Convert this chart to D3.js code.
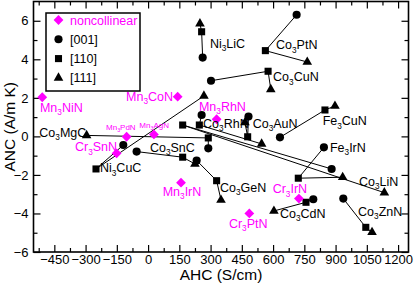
<!DOCTYPE html>
<html>
<head>
<meta charset="utf-8">
<script src="https://cdn.jsdelivr.net/npm/d3@7"></script>
<style>
  body { margin: 0; background: #fff; }
  text { font-family: "Liberation Sans", Arial, Helvetica, sans-serif; }
</style>
</head>
<body>
<div id="chart"></div>
<script>
// collinear compounds, one point per magnetisation direction
var compounds = ["Ni3LiC", "Co3PtN", "Co3CuN", "Fe3CuN", "Co3MgC", "Co3RhN", "Co3AuN",
                 "Co3SnC", "Ni3CuC", "Fe3IrN", "Co3GeN", "Co3LiN", "Co3CdN", "Co3ZnN"];
var ahc001 = [262, 713, 302, 633, 289, 257, 482, -55, -119, 844, 233, 881, 793, 937];
var anc001 = [4.09, 6.31, 2.89, -0.05, -0.62, 1.11, 1.03, -0.79, -0.45, -0.57, -1.25, -1.69, -3.26, -3.23];
var ahc110 = [257, 563, 576, 849, 289, 246, 478, 166, -250, 721, 329, 166, 758, 1045];
var anc110 = [5.43, 4.45, 3.38, 1.37, -0.08, 0.59, -0.02, -1.08, -1.69, -2.17, -2.30, 0.59, -3.42, -4.72];
var ahc111 = [249, 764, 589, 897, -295, 545, 465, 225, 268, 934, 350, 1134, 604, 1075];
var anc111 = [5.85, 3.86, 2.44, 1.58, 0.05, -0.39, 0.72, -1.43, 2.10, -2.12, -3.30, -2.92, -3.87, -4.98];

// noncollinear antiferromagnets
var ncNames = ["Mn3NiN", "Mn3CoN", "Mn3RhN", "Mn3PdN", "Mn3AgN", "Cr3SnN", "Mn3IrN", "Cr3IrN", "Cr3PtN"];
var ncAHC = [-508, 142, 329, -103, 28, -151, 158, 724, 486];
var ncANC = [2.03, 2.06, 0.89, -0.02, 0.10, -0.88, -2.40, -3.23, -4.00];

// axis ticks
var xTicks = [-450, -300, -150, 0, 150, 300, 450, 600, 750, 900, 1050, 1200];
var yTicks = [-6, -4, -2, 0, 2, 4, 6];

// where each label sits (data units)
var colLabelAt = [[297, 4.59], [614, 4.53], [600, 2.87], [838, 0.59], [-522, -0.03], [264, 0.44], [502, 0.46],
                  [9, -0.81], [-231, -1.85], [873, -0.79], [345, -2.87], [1012, -2.57], [633, -4.23], [1008, -4.13]];
var ncLabelAt = [[-519, 1.27], [-106, 1.84], [244, 1.32], [-202, 0.33], [-42, 0.46], [-351, -0.76], [70, -3.07], [598, -2.95], [388, -4.75]];
var ncSmall = ["Mn3PdN", "Mn3AgN"];

var W = 415, H = 285;
var magenta = "#ff00ff";

var svg = d3.select("#chart").append("svg")
    .attr("width", W)
    .attr("height", H);

var x = d3.scaleLinear().domain([-550, 1250]).range([33.5, 408.5]);
var y = d3.scaleLinear().domain([-6, 7]).range([252, 1.5]);

// minor ticks every 75 S/cm and every 1 A/(m K)
var xMinor = d3.range(-525, 1250, 75).filter(function(v){ return xTicks.indexOf(v) < 0; });
var yMinor = d3.range(-5, 7, 1).filter(function(v){ return yTicks.indexOf(v) < 0; });

// ticks point into the plot, so the label padding is counted from the axis line
function tickAxis(axisFn, scale, vals, len, withLabels, pad) {
    return axisFn(scale).tickValues(vals).tickSize(-len).tickPadding(withLabels ? pad : 0)
        .tickFormat(withLabels ? d3.format("d") : "");
}

var gx = svg.append("g").attr("transform", "translate(0," + y.range()[0] + ")");
gx.call(tickAxis(d3.axisBottom, x, xTicks, 7, true, 3));
gx.append("g").call(tickAxis(d3.axisBottom, x, xMinor, 4, false));
var gxt = svg.append("g").attr("transform", "translate(0," + y.range()[1] + ")");
gxt.call(tickAxis(d3.axisTop, x, xTicks, 7, false));
gxt.append("g").call(tickAxis(d3.axisTop, x, xMinor, 4, false));

var gy = svg.append("g").attr("transform", "translate(" + x.range()[0] + ",0)");
gy.call(tickAxis(d3.axisLeft, y, yTicks, 7, true, 5));
gy.append("g").call(tickAxis(d3.axisLeft, y, yMinor, 4, false));
var gyr = svg.append("g").attr("transform", "translate(" + x.range()[1] + ",0)");
gyr.call(tickAxis(d3.axisRight, y, yTicks, 7, false));
gyr.append("g").call(tickAxis(d3.axisRight, y, yMinor, 4, false));

svg.selectAll(".domain").remove();
svg.selectAll(".tick line").attr("stroke", "#000").attr("stroke-width", 1.2);
svg.selectAll(".tick text").attr("fill", "#000").style("font-size", "13px")
    .style("font-family", "'Liberation Sans', Arial, sans-serif");

// frame
svg.append("rect")
    .attr("x", x.range()[0]).attr("y", y.range()[1])
    .attr("width", x.range()[1] - x.range()[0])
    .attr("height", y.range()[0] - y.range()[1])
    .attr("fill", "none").attr("stroke", "#000").attr("stroke-width", 1.6);

// axis titles
svg.append("text")
    .attr("x", 221).attr("y", 280)
    .attr("text-anchor", "middle")
    .style("font-size", "15.5px")
    .text("AHC (S/cm)");
svg.append("text")
    .attr("transform", "translate(15," + ((y.range()[0] + y.range()[1]) / 2) + ") rotate(-90)")
    .attr("text-anchor", "middle")
    .style("font-size", "15.5px")
    .text("ANC (A/m K)");

// symbols
var sym = {
    circle: d3.symbol().type(d3.symbolCircle).size(52),
    square: d3.symbol().type(d3.symbolSquare).size(50),
    triangle: d3.symbol().type(d3.symbolTriangle).size(40),
    diamond: d3.symbol().type(d3.symbolSquare).size(48)
};

// put chemical formula with subscript digits
function formula(sel, name, size) {
    var parts = name.match(/\d+|\D+/g);
    var down = false;
    parts.forEach(function(p) {
        var isNum = /^\d+$/.test(p);
        var t = sel.append("tspan").text(p);
        if (isNum) {
            t.style("font-size", (size * 0.66) + "px").attr("dy", size * 0.28);
            down = true;
        } else if (down) {
            t.attr("dy", -size * 0.28);
            down = false;
        }
    });
}

var cols = compounds.map(function(name, i) {
    return {
        name: name,
        p001: [ahc001[i], anc001[i]],
        p110: [ahc110[i], anc110[i]],
        p111: [ahc111[i], anc111[i]]
    };
});

// connecting lines: [110] is the hub
var lines = svg.append("g");
cols.forEach(function(c) {
    [c.p001, c.p111].forEach(function(p) {
        lines.append("line")
            .attr("x1", x(c.p110[0])).attr("y1", y(c.p110[1]))
            .attr("x2", x(p[0])).attr("y2", y(p[1]))
            .attr("stroke", "#000").attr("stroke-width", 1);
    });
});

var marks = svg.append("g");
cols.forEach(function(c) {
    marks.append("path").attr("d", sym.circle())
        .attr("transform", "translate(" + x(c.p001[0]) + "," + y(c.p001[1]) + ")");
    marks.append("path").attr("d", sym.square())
        .attr("transform", "translate(" + x(c.p110[0]) + "," + y(c.p110[1]) + ")");
    marks.append("path").attr("d", sym.triangle())
        .attr("transform", "translate(" + x(c.p111[0]) + "," + y(c.p111[1]) + ")");
});

ncNames.forEach(function(n, i) {
    marks.append("path").attr("d", sym.diamond())
        .attr("fill", magenta)
        .attr("transform", "translate(" + x(ncAHC[i]) + "," + y(ncANC[i]) + ") rotate(45)");
});

// labels
var labs = svg.append("g");
compounds.forEach(function(n, i) {
    var t = labs.append("text")
        .attr("x", x(colLabelAt[i][0])).attr("y", y(colLabelAt[i][1]))
        .style("font-size", "12.5px").attr("fill", "#000");
    formula(t, n, 12.5);
});
ncNames.forEach(function(n, i) {
    var fs = ncSmall.indexOf(n) >= 0 ? 8 : 12.5;
    var t = labs.append("text")
        .attr("x", x(ncLabelAt[i][0])).attr("y", y(ncLabelAt[i][1]))
        .style("font-size", fs + "px").attr("fill", magenta);
    formula(t, n, fs);
});

// legend
var leg = svg.append("g");
leg.append("rect")
    .attr("x", 46).attr("y", 13).attr("width", 94).attr("height", 78)
    .attr("fill", "#fff").attr("stroke", "#000").attr("stroke-width", 1.5);
var legItems = [
    {s: "diamond", label: "noncollinear", color: magenta},
    {s: "circle", label: "[001]", color: "#000"},
    {s: "square", label: "[110]", color: "#000"},
    {s: "triangle", label: "[111]", color: "#000"}
];
legItems.forEach(function(d, i) {
    var cy = 20 + i * 19.3;
    leg.append("path").attr("d", sym[d.s]())
        .attr("fill", d.color)
        .attr("transform", "translate(58.5," + cy + ")" + (d.s === "diamond" ? " rotate(45)" : ""));
    leg.append("text")
        .attr("x", 70).attr("y", cy + 4.5)
        .attr("fill", d.color)
        .style("font-size", "12.5px")
        .text(d.label);
});
</script>
</body>
</html>
